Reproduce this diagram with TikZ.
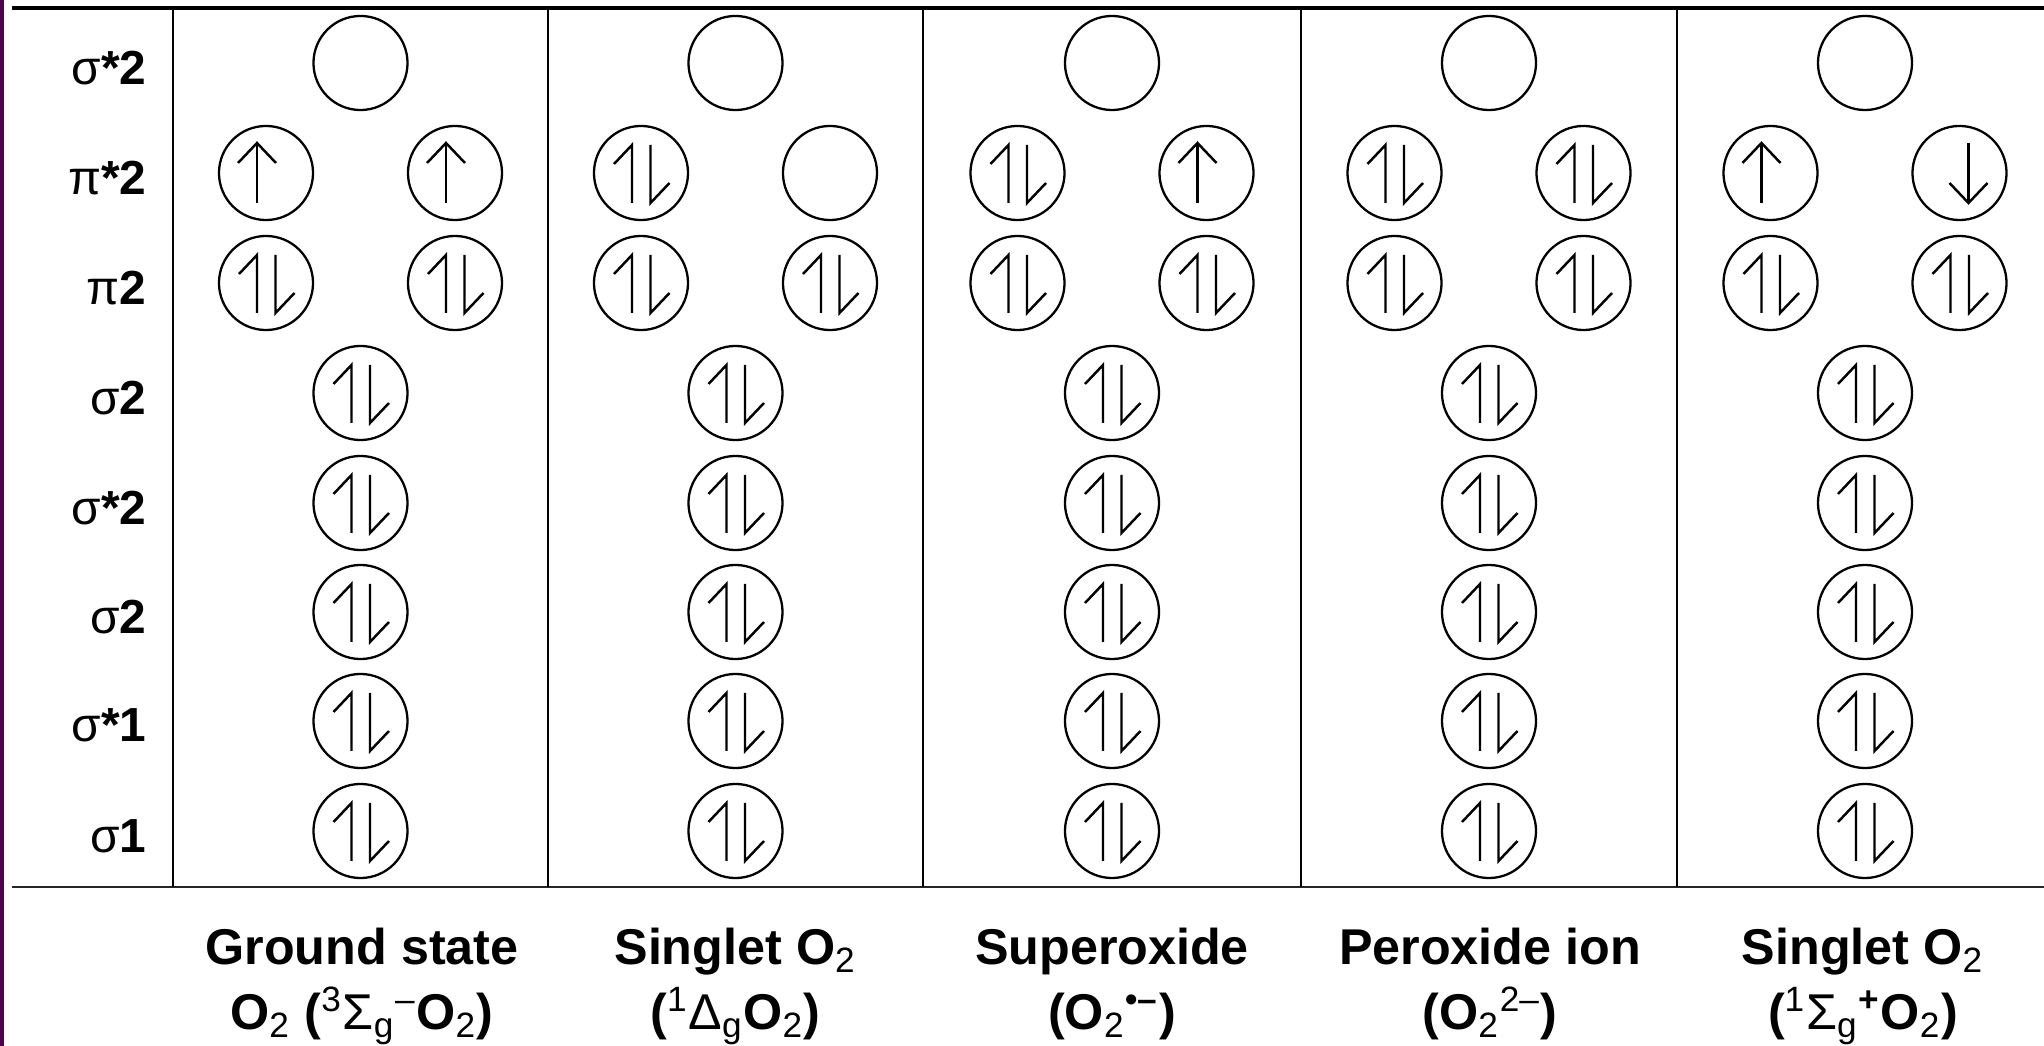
\documentclass[tikz,border=0pt]{standalone}
\usepackage{fontspec}
\setmainfont{Liberation Sans}
\definecolor{edgepurple}{RGB}{72,8,72}

% spin arrows drawn inside an orbital node
\newcommand\spinnone[1]{}
\newcommand\spinpair[1]{%
  \draw[spinline] ([shift={(-9,30)}]#1.center) -- ++(0,-58) -- ++(-18,19);
  \draw[spinline] ([shift={(9.5,-28)}]#1.center) -- ++(0,58) -- ++(19,-20);}
\newcommand\spinup[1]{%
  \draw[spinline] ([shift={(-9,30)}]#1.center) -- ++(0,-60);
  \draw[spinline] ([shift={(-28,-10)}]#1.center) -- ++(19,-20) -- ++(19,20);}
\newcommand\spindown[1]{%
  \draw[spinline] ([shift={(9,-30)}]#1.center) -- ++(0,60);
  \draw[spinline] ([shift={(-10,10)}]#1.center) -- ++(19,20) -- ++(19,-20);}
\newcommand\spin[2]{\csname spin#1\endcsname{#2}}

\begin{document}
\begin{tikzpicture}[x=0.01cm,y=-0.01cm,
  orb/.style={circle,draw,line width=0.65pt,minimum size=0.94cm,inner sep=0pt},
  spinline/.style={line width=0.7pt,line cap=butt,line join=miter},
  rowlab/.style={anchor=base east,inner sep=0pt,font=\fontsize{13.6}{16}\selectfont},
  collab/.style={anchor=base,inner sep=0pt,font=\fontsize{14.3}{17}\selectfont\bfseries},
  rule/.style={line width=0.6pt}]
\useasboundingbox (0,0) rectangle (2044,1046);

% page edge
\fill[edgepurple] (0,0) rectangle (4,1046);

% table rules
\draw[line width=1pt] (12,8) -- (2044,8);
\draw[line width=0.85pt,black!85] (12,887) -- (2044,887);
\foreach \vx in {173,548,923,1301,1677}
  \draw[rule] (\vx,8) -- (\vx,887);

% orbital labels
\node[rowlab] (lab1) at (147,85)  {σ\textbf{*2}};
\node[rowlab] (lab2) at (147,195) {π\textbf{*2}};
\node[rowlab] (lab3) at (147,305) {π\textbf{2}};
\node[rowlab] (lab4) at (147,415) {σ\textbf{2}};
\node[rowlab] (lab5) at (147,525) {σ\textbf{*2}};
\node[rowlab] (lab6) at (147,634) {σ\textbf{2}};
\node[rowlab] (lab7) at (147,742) {σ\textbf{*1}};
\node[rowlab] (lab8) at (147,853) {σ\textbf{1}};

% orbitals of each species
\foreach \c/\x/\a/\b in {1/360.5/up/up, 2/735.5/pair/none, 3/1112/pair/up,
                         4/1489/pair/pair, 5/1865/up/down} {
  \node[orb] (ss\c) at (\x,63) {};
  \node[orb] (psL\c) at (\x-94.5,173) {};
  \node[orb] (psR\c) at (\x+94.5,173) {};
  \node[orb] (pL\c) at (\x-94.5,283) {};
  \node[orb] (pR\c) at (\x+94.5,283) {};
  \spin{\a}{psL\c}
  \spin{\b}{psR\c}
  \spinpair{pL\c}
  \spinpair{pR\c}
  \foreach \r/\y in {4/393,5/503,6/612,7/721,8/831} {
    \node[orb] (o\r\c) at (\x,\y) {};
    \spinpair{o\r\c}
  }
}

% species names
\node[collab] (n1a) at (362,965) {Ground state};
\node[collab] (n1b) at (362,1030) {O\textsubscript{\mdseries 2} (\textsuperscript{\mdseries 3}{\mdseries Σ}\textsubscript{\mdseries g}\textsuperscript{\mdseries –}O\textsubscript{\mdseries 2})};
\node[collab] (n2a) at (735.5,965) {Singlet O\textsubscript{\mdseries 2}};
\node[collab] (n2b) at (735.5,1030) {(\textsuperscript{\mdseries 1}{\mdseries Δ}\textsubscript{\mdseries g}O\textsubscript{\mdseries 2})};
\node[collab] (n3a) at (1112,965) {Superoxide};
\node[collab] (n3b) at (1112,1030) {(O\textsubscript{\mdseries 2}\textsuperscript{•–})};
\node[collab] (n4a) at (1490,965) {Peroxide ion};
\node[collab] (n4b) at (1490,1030) {(O\textsubscript{\mdseries 2}\textsuperscript{\mdseries 2–})};
\node[collab] (n5a) at (1863,965) {Singlet O\textsubscript{\mdseries 2}};
\node[collab] (n5b) at (1863,1030) {(\textsuperscript{\mdseries 1}{\mdseries Σ}\textsubscript{\mdseries g}\textsuperscript{+}O\textsubscript{\mdseries 2})};
\end{tikzpicture}
\end{document}
